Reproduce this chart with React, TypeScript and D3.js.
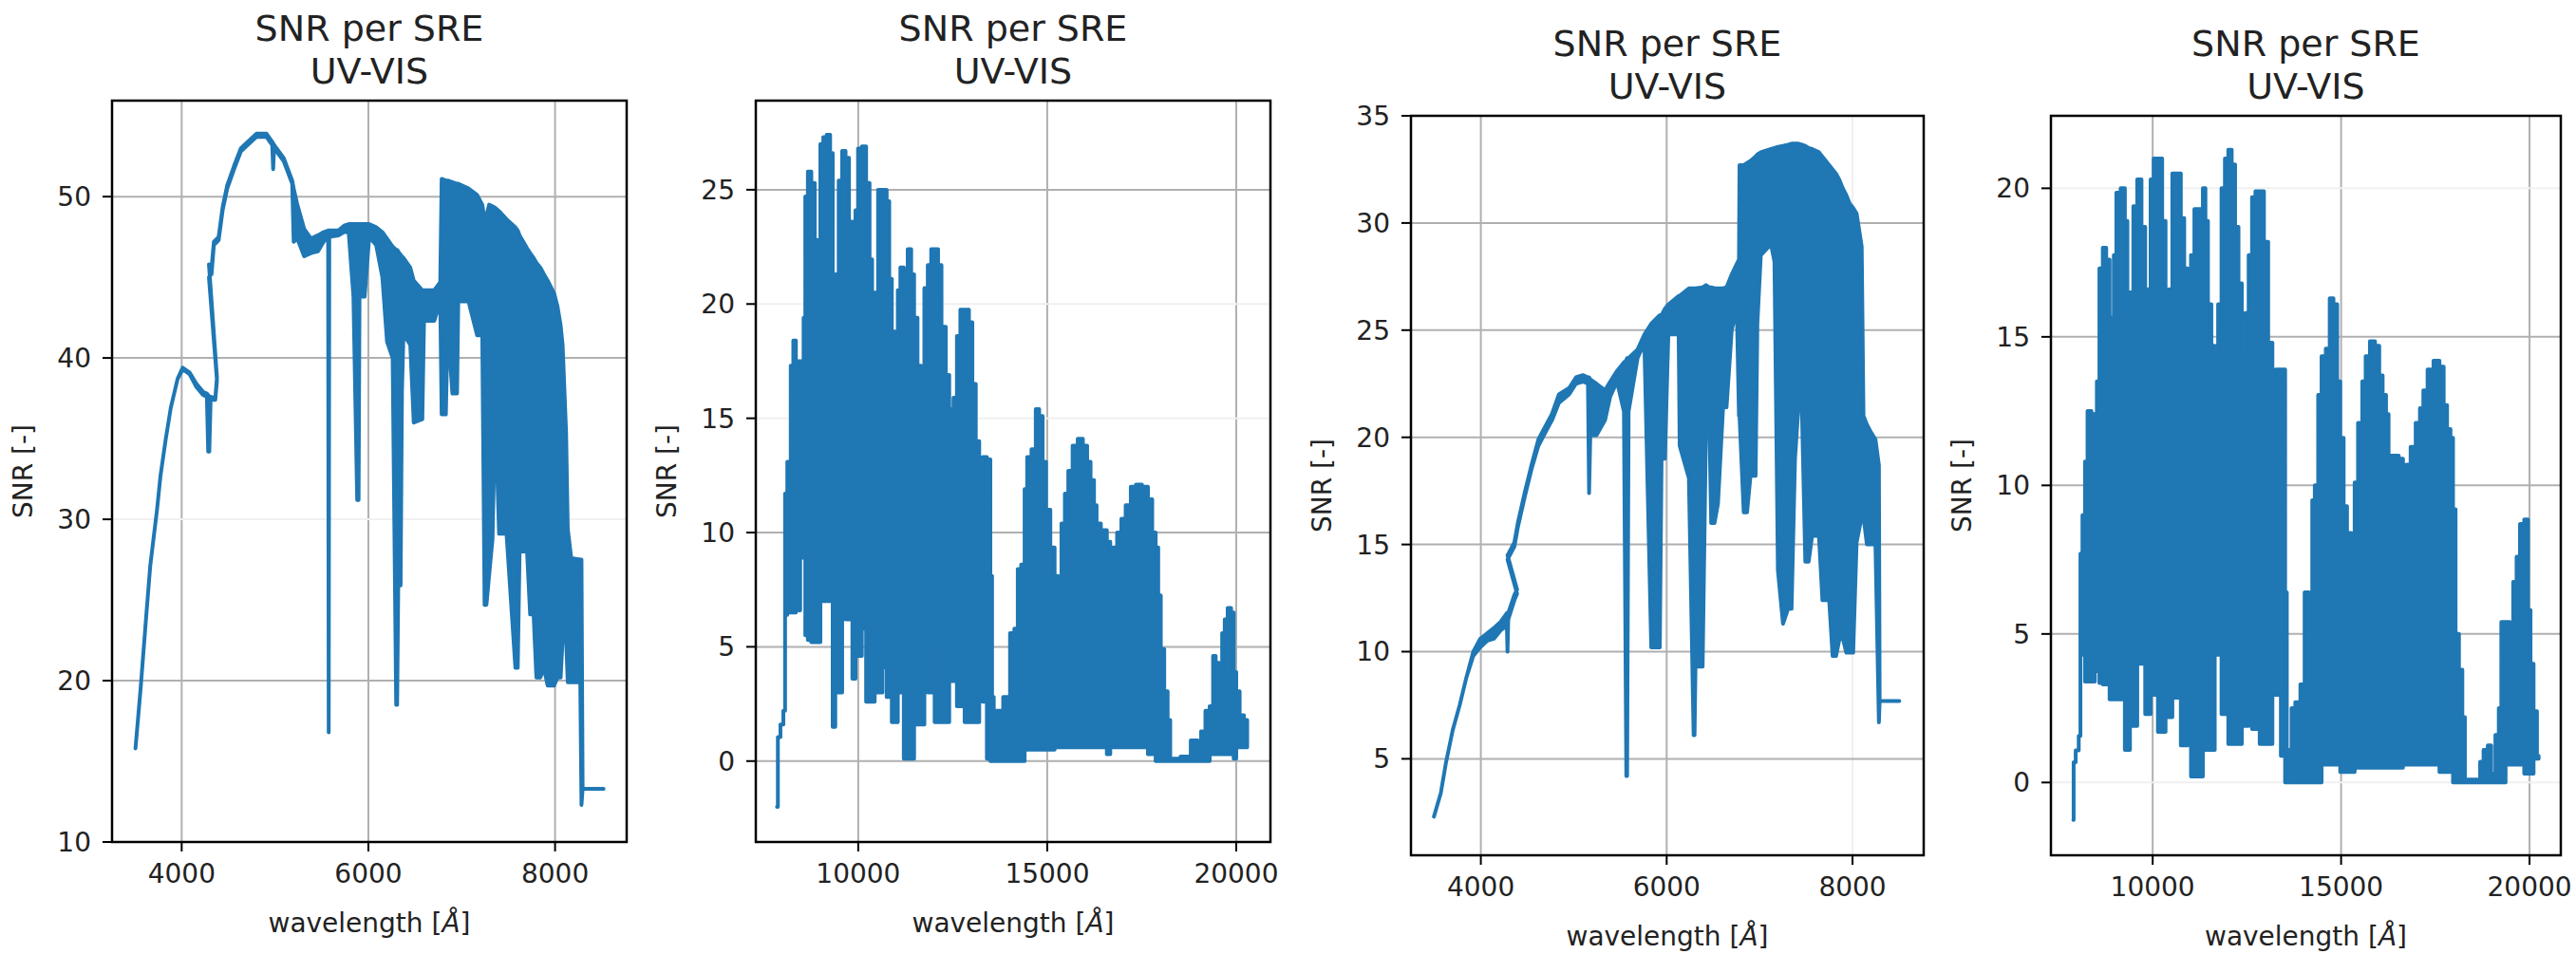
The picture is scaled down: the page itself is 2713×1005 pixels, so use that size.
import React from 'react';
import * as d3 from 'd3';

// panel 1: UV-VIS, 3500-8500 A
const waveA = [3505, 3560, 3620, 3663, 3736, 3773, 3830, 3883, 3956, 4011, 4084, 4158, 4230, 4270, 4284, 4296, 4310, 4360, 4378, 4292, 4320, 4345, 4396, 4440, 4488, 4561, 4634, 4726, 4800, 4909, 4970, 4980, 4990, 5093, 5184, 5200, 5239, 5312, 5386, 5459, 5520, 5569, 5575, 5581, 5679, 5740, 5789, 5840, 5880, 5895, 5905, 5960, 6009, 6083, 6150, 6200, 6260, 6298, 6308, 6320, 6345, 6360, 6376, 6449, 6486, 6578, 6596, 6706, 6770, 6785, 6830, 6850, 6900, 6950, 6963, 7073, 7165, 7220, 7245, 7265, 7293, 7330, 7360, 7400, 7480, 7575, 7600, 7620, 7700, 7733, 7770, 7800, 7843, 7880, 7920, 7990, 8026, 8060, 8081, 8118, 8136, 8173, 8270, 8283, 8295, 8520];
const upperA = [15.8, 19.5, 24.0, 27.1, 30.6, 32.7, 35.0, 36.9, 38.7, 39.4, 39.1, 38.4, 37.9, 37.8, 37.7, 37.6, 37.6, 37.5, 38.8, 45.8, 45.6, 47.2, 47.5, 49.4, 50.7, 51.9, 53.0, 53.5, 53.9, 53.9, 53.4, 53.3, 53.2, 52.4, 51.0, 50.5, 49.5, 48.0, 47.4, 47.6, 47.8, 47.9, 47.9, 47.9, 47.9, 48.2, 48.3, 48.3, 48.3, 48.3, 48.3, 48.3, 48.3, 48.1, 47.8, 47.4, 46.9, 46.7, 46.7, 46.6, 46.4, 46.3, 46.2, 45.6, 44.8, 44.2, 44.2, 44.2, 44.7, 51.1, 51.0, 51.0, 50.9, 50.8, 50.8, 50.5, 50.1, 49.5, 48.6, 48.8, 49.5, 49.4, 49.3, 49.1, 48.6, 48.1, 47.9, 47.6, 46.8, 46.5, 46.2, 45.9, 45.6, 45.2, 44.8, 44.0, 43.2, 42.0, 40.8, 35.4, 29.4, 27.6, 27.5, 27.5, 13.3, 13.3];
const lowerA = [15.8, 19.5, 24.0, 27.1, 30.6, 32.7, 35.0, 36.9, 38.7, 39.3, 39.0, 38.2, 37.7, 37.6, 34.2, 34.2, 37.4, 37.4, 38.6, 45.0, 45.2, 47.0, 47.3, 49.2, 50.5, 51.7, 52.8, 53.3, 53.7, 53.7, 53.2, 51.7, 53.0, 52.2, 50.8, 47.2, 47.4, 46.3, 46.5, 46.6, 47.2, 47.5, 16.8, 47.5, 47.6, 47.8, 47.8, 43.8, 31.2, 31.2, 43.8, 43.8, 47.5, 47.0, 45.0, 41.0, 40.0, 18.5, 18.5, 25.9, 25.9, 38.0, 41.5, 40.8, 36.0, 36.2, 42.3, 42.3, 43.5, 36.5, 36.5, 42.0, 37.8, 37.8, 43.5, 43.5, 41.4, 41.4, 24.7, 24.7, 26.5, 28.8, 36.9, 29.1, 29.1, 20.8, 20.8, 28.0, 28.0, 24.1, 24.1, 20.2, 20.2, 20.8, 19.7, 19.7, 20.2, 20.2, 22.6, 22.6, 19.9, 19.9, 19.9, 12.3, 13.3, 13.3];

// panel 2: NIR, 7850-20300 A
const waveB = [7851, 7897, 7987, 8051, 8078, 8169, 8260, 8305, 8396, 8532, 8577, 8622, 8713, 8804, 8894, 8967, 9030, 9121, 9211, 9302, 9347, 9438, 9529, 9620, 9710, 9801, 9891, 9964, 10027, 10163, 10254, 10344, 10390, 10480, 10571, 10707, 10797, 10843, 10933, 11024, 11070, 11160, 11250, 11369, 11432, 11523, 11613, 11704, 11795, 11885, 11976, 12067, 12157, 12248, 12384, 12430, 12475, 12566, 12656, 12747, 12883, 12974, 13064, 13155, 13246, 13336, 13472, 13518, 13563, 13608, 13699, 13971, 14062, 14198, 14243, 14379, 14424, 14515, 14651, 14742, 14832, 14923, 15014, 15150, 15240, 15331, 15422, 15512, 15603, 15739, 15875, 16011, 16101, 16192, 16283, 16328, 16509, 16645, 16690, 16781, 16917, 17007, 17143, 17279, 17415, 17596, 17732, 17823, 17914, 17959, 18050, 18140, 18231, 18277, 18775, 18820, 18955, 19000, 19140, 19230, 19365, 19411, 19502, 19592, 19664, 19728, 19819, 19910, 19955, 20045, 20136, 20272, 20290];
const upperB = [-2.0, 1.05, 1.6, 2.2, 11.7, 13.1, 17.3, 18.4, 17.5, 17.5, 19.4, 24.7, 25.8, 25.3, 22.8, 20.5, 27.0, 27.3, 27.4, 26.6, 17.5, 21.3, 25.4, 26.7, 26.4, 23.6, 21.3, 24.1, 26.8, 26.9, 25.3, 21.95, 18.4, 20.5, 25.0, 25.0, 24.5, 21.1, 18.8, 18.2, 20.6, 21.6, 21.5, 22.4, 21.3, 19.4, 17.3, 15.0, 20.7, 21.7, 22.4, 22.4, 21.7, 19.0, 16.9, 14.0, 15.4, 15.9, 18.6, 19.75, 19.75, 19.2, 16.5, 14.0, 12.5, 13.3, 13.2, 8.1, 2.8, 0.1, 2.2, 2.8, 5.6, 5.8, 8.4, 8.6, 11.9, 13.3, 13.65, 15.4, 15.1, 13.1, 11.0, 9.35, 8.1, 7.7, 10.4, 11.7, 12.7, 13.8, 14.1, 13.8, 13.1, 12.3, 11.2, 10.4, 10.1, 9.6, 8.5, 9.35, 10.0, 10.6, 11.2, 12.0, 12.1, 12.0, 11.45, 10.0, 9.35, 7.25, 4.9, 3.05, 1.8, 0.1, 0.2, 0.9, 0.9, 0.3, 1.3, 2.2, 2.4, 4.6, 4.3, 3.9, 5.6, 6.2, 6.7, 6.5, 3.9, 3.05, 2.0, 1.8, 1.8];
const lowerB = [-2.0, 1.05, 1.6, 2.2, 6.4, 6.5, 6.5, 6.5, 6.6, 8.9, 8.9, 5.5, 5.3, 5.2, 5.2, 5.2, 7.0, 7.0, 7.0, 7.0, 1.5, 3.0, 3.0, 7.7, 6.2, 6.2, 3.6, 4.6, 4.6, 5.8, 2.6, 2.6, 2.6, 3.0, 3.0, 4.1, 2.8, 2.8, 1.7, 1.7, 3.0, 3.0, 0.1, 0.1, 0.1, 1.6, 1.6, 1.6, 5.6, 3.0, 3.0, 1.7, 1.7, 1.7, 1.7, 3.5, 3.5, 3.5, 2.4, 2.4, 1.7, 1.7, 1.7, 1.7, 3.5, 2.6, 0.1, 0.0, 0.0, 0.0, 0.0, 0.0, 0.0, 0.0, 0.0, 0.0, 0.5, 0.5, 0.5, 0.5, 0.5, 0.5, 0.5, 0.5, 0.6, 0.6, 0.6, 0.6, 0.6, 0.6, 0.6, 0.6, 0.6, 0.6, 0.6, 0.6, 0.6, 0.3, 0.6, 0.6, 0.6, 0.6, 0.6, 0.6, 0.6, 0.6, 0.3, 0.3, 0.0, 0.0, 0.0, 0.0, 0.0, 0.0, 0.0, 0.0, 0.0, 0.0, 0.0, 0.0, 0.3, 0.3, 0.3, 0.3, 0.3, 0.3, 0.3, 0.3, 0.1, 0.6, 0.6, 0.6, 0.6];

// panel 3: UV-VIS, second target
const waveC = [3495, 3569, 3624, 3698, 3772, 3845, 3919, 3993, 4066, 4140, 4214, 4280, 4287, 4295, 4361, 4390, 4287, 4300, 4361, 4398, 4471, 4545, 4619, 4692, 4766, 4840, 4950, 5024, 5098, 5153, 5165, 5178, 5245, 5337, 5392, 5466, 5540, 5566, 5574, 5590, 5687, 5760, 5834, 5926, 5945, 5981, 6018, 6129, 6140, 6239, 6290, 6300, 6310, 6387, 6423, 6460, 6479, 6515, 6552, 6607, 6644, 6700, 6755, 6778, 6784, 6829, 6865, 6902, 6957, 6976, 7013, 7123, 7160, 7197, 7252, 7307, 7344, 7381, 7418, 7455, 7492, 7528, 7565, 7639, 7676, 7749, 7786, 7823, 7860, 7897, 7933, 7970, 8007, 8044, 8099, 8118, 8155, 8191, 8247, 8284, 8292, 8504];
const upperC = [2.3, 3.4, 4.8, 6.35, 7.5, 8.8, 10.0, 10.6, 10.85, 11.1, 11.4, 11.8, 11.8, 11.8, 12.65, 12.9, 14.5, 14.6, 15.1, 16.0, 17.4, 18.7, 19.9, 20.5, 21.1, 22.0, 22.3, 22.8, 22.9, 22.8, 22.8, 22.7, 22.5, 22.2, 22.6, 23.1, 23.5, 23.6, 23.7, 23.7, 24.1, 24.8, 25.3, 25.7, 25.7, 26.0, 26.2, 26.6, 26.6, 26.95, 26.95, 26.95, 26.95, 27.0, 27.1, 27.0, 27.0, 26.95, 26.95, 26.95, 27.0, 27.6, 28.1, 28.3, 32.7, 32.7, 32.8, 32.9, 33.1, 33.2, 33.3, 33.45, 33.5, 33.55, 33.6, 33.65, 33.7, 33.7, 33.7, 33.65, 33.6, 33.5, 33.45, 33.3, 33.1, 32.7, 32.5, 32.3, 32.0, 31.6, 31.3, 30.9, 30.7, 30.45, 28.9, 21.0, 20.6, 20.3, 19.9, 18.7, 7.7, 7.7];
const lowerC = [2.3, 3.4, 4.8, 6.35, 7.5, 8.8, 9.8, 10.2, 10.5, 10.6, 11.0, 11.2, 10.0, 11.5, 12.4, 12.7, 14.3, 14.4, 14.9, 15.8, 17.2, 18.5, 19.6, 20.2, 20.8, 21.6, 22.0, 22.5, 22.6, 22.5, 17.4, 20.1, 20.1, 20.8, 21.9, 22.6, 21.2, 4.2, 4.2, 21.2, 23.7, 24.4, 10.2, 10.2, 19.0, 19.0, 24.8, 24.8, 19.6, 18.1, 6.1, 6.1, 9.3, 9.3, 20.5, 20.5, 16.0, 16.0, 16.9, 21.4, 21.4, 25.0, 26.0, 21.0, 21.0, 16.5, 16.5, 18.2, 18.2, 25.3, 28.5, 29.0, 28.2, 13.8, 11.3, 12.0, 12.0, 19.0, 21.4, 21.4, 14.2, 14.2, 15.4, 15.4, 12.4, 12.4, 9.8, 9.8, 10.6, 10.6, 9.95, 9.95, 9.95, 15.1, 16.3, 16.3, 15.0, 15.0, 15.0, 6.7, 7.7, 7.7];

// panel 4: NIR, second target
const waveD = [7894, 7912, 8002, 8074, 8092, 8182, 8227, 8317, 8434, 8497, 8542, 8632, 8722, 8812, 8902, 8947, 8992, 9082, 9217, 9307, 9352, 9442, 9532, 9649, 9757, 9847, 9910, 9982, 10072, 10207, 10297, 10387, 10477, 10567, 10702, 10792, 10882, 10972, 11062, 11152, 11287, 11377, 11422, 11512, 11602, 11692, 11782, 11872, 11962, 12052, 12142, 12232, 12322, 12412, 12502, 12592, 12682, 12772, 12907, 12997, 13132, 13222, 13312, 13492, 13537, 13582, 13654, 13717, 13852, 13987, 14077, 14212, 14257, 14347, 14437, 14527, 14662, 14734, 14860, 14932, 15022, 15112, 15202, 15337, 15382, 15517, 15607, 15697, 15832, 15967, 16057, 16147, 16237, 16282, 16462, 16597, 16687, 16777, 16912, 17047, 17137, 17227, 17362, 17542, 17677, 17767, 17857, 17947, 17992, 18082, 18172, 18262, 18307, 18667, 18712, 18847, 18937, 19027, 19162, 19207, 19297, 19432, 19522, 19612, 19702, 19792, 19927, 19990, 20062, 20152, 20242];
const upperD = [-1.26, 0.68, 1.08, 1.57, 7.7, 9.0, 10.8, 12.5, 12.4, 11.3, 13.5, 17.3, 18.0, 17.6, 15.65, 15.2, 17.75, 19.85, 20.0, 18.9, 13.5, 16.5, 19.4, 20.3, 18.7, 16.6, 16.5, 20.3, 21.0, 21.0, 18.9, 15.0, 16.6, 20.5, 20.5, 19.0, 17.3, 15.8, 17.75, 19.3, 19.3, 20.0, 18.9, 16.1, 14.7, 13.9, 16.1, 20.0, 21.0, 21.3, 20.8, 18.7, 16.8, 14.35, 15.8, 17.75, 19.7, 19.9, 19.9, 18.2, 14.8, 13.05, 13.9, 13.9, 6.4, 1.1, 0.1, 2.5, 2.7, 3.3, 6.4, 5.8, 9.5, 10.0, 13.05, 14.35, 14.6, 16.3, 16.1, 13.5, 11.6, 9.3, 8.4, 7.5, 10.1, 12.1, 13.5, 14.35, 14.85, 14.7, 13.7, 13.05, 12.4, 11.0, 11.0, 10.9, 10.1, 10.7, 11.3, 12.1, 12.6, 13.2, 13.9, 14.2, 14.0, 12.7, 11.9, 11.6, 9.2, 5.0, 3.8, 2.2, 0.1, 0.1, 0.7, 1.1, 1.25, 0.3, 1.6, 2.5, 5.4, 5.4, 4.5, 6.75, 7.6, 8.7, 8.85, 5.8, 4.0, 2.4, 0.9];
const lowerD = [-1.26, 0.68, 1.08, 1.57, 4.3, 4.3, 3.4, 3.4, 3.4, 3.75, 5.1, 3.35, 3.3, 3.3, 2.8, 2.8, 2.8, 2.8, 2.8, 1.1, 1.1, 1.9, 1.9, 4.0, 4.0, 2.3, 2.3, 2.95, 2.95, 1.7, 1.7, 2.2, 2.2, 2.85, 2.85, 1.25, 1.25, 2.7, 0.2, 0.2, 0.2, 1.1, 1.1, 1.1, 1.1, 4.3, 4.3, 2.3, 2.3, 1.3, 1.3, 1.3, 1.3, 1.9, 1.9, 4.0, 1.8, 1.8, 1.3, 1.3, 1.3, 2.95, 2.95, 0.9, 0.0, 0.0, 0.0, 0.0, 0.0, 0.0, 0.0, 0.0, 0.0, 0.0, 0.0, 0.6, 0.6, 0.6, 0.6, 0.6, 0.35, 0.35, 0.35, 0.35, 0.5, 0.5, 0.5, 0.5, 0.5, 0.5, 0.5, 0.5, 0.5, 0.5, 0.5, 0.5, 0.6, 0.6, 0.6, 0.6, 0.6, 0.6, 0.6, 0.6, 0.35, 0.35, 0.35, 0.35, 0.0, 0.0, 0.0, 0.0, 0.0, 0.0, 0.0, 0.0, 0.0, 0.0, 0.0, 0.0, 0.0, 0.6, 0.6, 0.6, 0.6, 0.6, 0.3, 0.3, 0.3, 0.8, 0.8];

const xTicksVis = [4000, 6000, 8000];
const xTicksNir = [10000, 15000, 20000];

const W = 2713;
const H = 1005;
const BLUE = '#1f77b4';
const FONT = '"DejaVu Sans", sans-serif';

// NIR panels are dense enough that a stepped band reads closer to the original
const panels = [
  { wave: waveA, upper: upperA, lower: lowerA, box: [118, 660, 106, 887], xDomain: [3254, 8767], yDomain: [10.0, 55.95], xTicks: xTicksVis, yTicks: [10, 20, 30, 40, 50], faintY: [30], faintX: [], curve: d3.curveLinear },
  { wave: waveB, upper: upperB, lower: lowerB, box: [796, 1338, 106, 887], xDomain: [7290, 20905], yDomain: [-3.54, 28.9], xTicks: xTicksNir, yTicks: [0, 5, 10, 15, 20, 25], faintY: [15, 20], faintX: [], curve: d3.curveStep },
  { wave: waveC, upper: upperC, lower: lowerC, box: [1486, 2026, 122, 901], xDomain: [3248, 8766], yDomain: [0.5, 35.0], xTicks: xTicksVis, yTicks: [5, 10, 15, 20, 25, 30, 35], faintY: [], faintX: [8000], curve: d3.curveLinear },
  { wave: waveD, upper: upperD, lower: lowerD, box: [2160, 2697, 122, 901], xDomain: [7300, 20830], yDomain: [-2.45, 22.44], xTicks: xTicksNir, yTicks: [0, 5, 10, 15, 20], faintY: [0, 20], faintX: [], curve: d3.curveStep },
];

function Panel({ p, idx }) {
  const [left, right, top, bottom] = p.box;
  const x = d3.scaleLinear().domain(p.xDomain).range([left, right]);
  const y = d3.scaleLinear().domain(p.yDomain).range([bottom, top]);
  const rows = p.wave.map((w, i) => ({ w, hi: p.upper[i], lo: p.lower[i] }));
  const band = d3.area().curve(p.curve).x(d => x(d.w)).y0(d => y(d.lo)).y1(d => y(d.hi));
  const cx = (left + right) / 2;
  const cy = (top + bottom) / 2;
  const clipId = 'clip' + idx;

  return (
    <g>
      <clipPath id={clipId}>
        <rect x={left} y={top} width={right - left} height={bottom - top} />
      </clipPath>
      {/* grid */}
      {p.xTicks.map(t => (
        <line key={'gx' + t} x1={x(t)} x2={x(t)} y1={top} y2={bottom}
          stroke={p.faintX.includes(t) ? '#f0f0f0' : '#b0b0b0'} strokeWidth={2} />
      ))}
      {p.yTicks.map(t => (
        <line key={'gy' + t} x1={left} x2={right} y1={y(t)} y2={y(t)}
          stroke={p.faintY.includes(t) ? '#f0f0f0' : '#b0b0b0'} strokeWidth={2} />
      ))}
      <path d={band(rows)} fill={BLUE} stroke={BLUE} strokeWidth={4}
        strokeLinejoin="round" clipPath={`url(#${clipId})`} />
      <rect x={left} y={top} width={right - left} height={bottom - top}
        fill="none" stroke="#000" strokeWidth={2.5} />
      {/* ticks */}
      {p.xTicks.map(t => (
        <g key={'tx' + t}>
          <line x1={x(t)} x2={x(t)} y1={bottom} y2={bottom + 10} stroke="#000" strokeWidth={2} />
          <text x={x(t)} y={bottom + 43} textAnchor="middle" fontSize={28} fill="#222">{t}</text>
        </g>
      ))}
      {p.yTicks.map(t => (
        <g key={'ty' + t}>
          <line x1={left - 10} x2={left} y1={y(t)} y2={y(t)} stroke="#000" strokeWidth={2} />
          <text x={left - 22} y={y(t) + 10} textAnchor="end" fontSize={28} fill="#222">{t}</text>
        </g>
      ))}
      {/* labels */}
      <text x={cx} y={bottom + 95} textAnchor="middle" fontSize={28} fill="#222">
        wavelength [<tspan fontStyle="italic">Å</tspan>]
      </text>
      <text transform={`translate(${left - 84},${cy}) rotate(-90)`} textAnchor="middle" fontSize={28} fill="#222">
        SNR [-]
      </text>
      <text x={cx} y={top - 63} textAnchor="middle" fontSize={38} fill="#222">SNR per SRE</text>
      <text x={cx} y={top - 18} textAnchor="middle" fontSize={38} fill="#222">UV-VIS</text>
    </g>
  );
}

export default function App() {
  return (
    <svg width={W} height={H} fontFamily={FONT}
      style={{ position: 'absolute', left: 0, top: 0, background: '#fff' }}>
      <rect width={W} height={H} fill="#fff" />
      {panels.map((p, i) => <Panel key={i} p={p} idx={i} />)}
    </svg>
  );
}
